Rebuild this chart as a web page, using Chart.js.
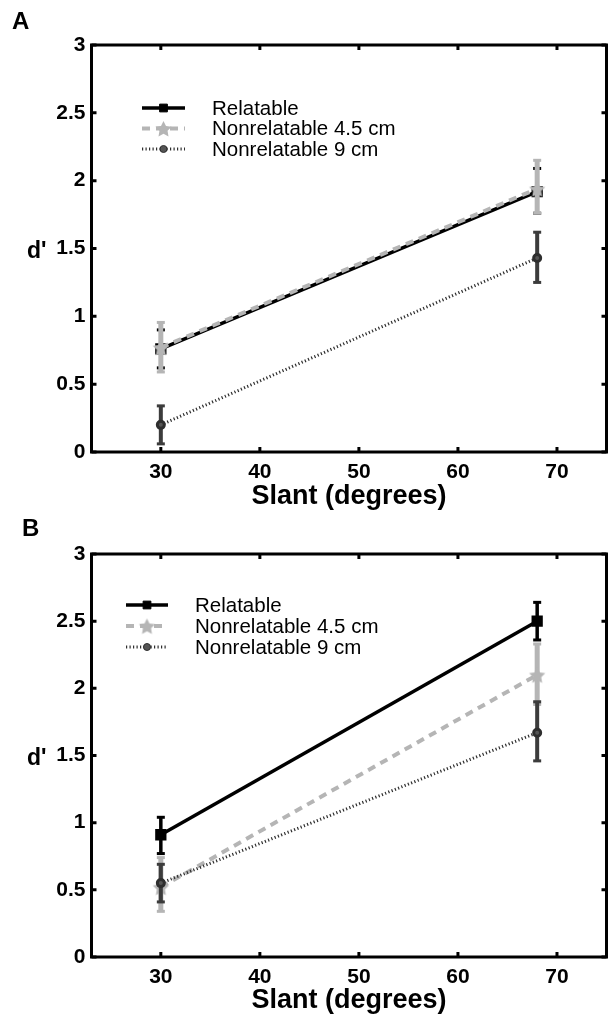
<!DOCTYPE html>
<html lang="en">
<head>
<meta charset="UTF-8">
<title>d' by slant</title>
<script src="https://cdn.jsdelivr.net/npm/chart.js"></script>
<style>
  body { margin: 0; background: #fff; overflow: hidden; }
  .panel { position: absolute; left: 0; width: 608px; }
  #panelA { top: 0; height: 513px; }
  #panelB { top: 513px; height: 504px; }
</style>
</head>
<body>
<div class="panel" id="panelA"><canvas id="chartA"></canvas></div>
<div class="panel" id="panelB"><canvas id="chartB"></canvas></div>

<script>
// --- data ---
const slants = [30, 68];
const xTicks = [30, 40, 50, 60, 70];
const yTicks = [0, 0.5, 1, 1.5, 2, 2.5, 3];
const seriesNames = ["Relatable", "Nonrelatable 4.5 cm", "Nonrelatable 9 cm"];

// panel A
const relA   = [0.76, 1.92];
const relALo = [0.62, 1.76];
const relAHi = [0.90, 2.09];
const n45A   = [0.77, 1.94];
const n45ALo = [0.59, 1.76];
const n45AHi = [0.955, 2.15];
const n9A    = [0.20, 1.43];
const n9ALo  = [0.06, 1.25];
const n9AHi  = [0.34, 1.62];

// panel B
const relB   = [0.91, 2.50];
const relBLo = [0.77, 2.36];
const relBHi = [1.04, 2.64];
const n45B   = [0.52, 2.10];
const n45BLo = [0.34, 1.88];
const n45BHi = [0.74, 2.33];
const n9B    = [0.55, 1.67];
const n9BLo  = [0.41, 1.46];
const n9BHi  = [0.69, 1.90];

const FONT = "'Liberation Sans', Arial, Helvetica, sans-serif";
Chart.defaults.font.family = FONT;
Chart.defaults.color = '#000';

const GRAY = '#b5b5b5';
const DARK = '#2e2e2e';

// filled five point star used as the 4.5 cm marker
function makeStar(color, r) {
    const s = Math.ceil(r * 2 + 2);
    const c = document.createElement('canvas');
    c.width = s; c.height = s;
    const g = c.getContext('2d');
    g.fillStyle = color;
    g.beginPath();
    for (let i = 0; i < 10; i++) {
        const rad = i % 2 ? r * 0.5 : r;
        const a = -Math.PI / 2 + i * Math.PI / 5;
        g.lineTo(s / 2 + rad * Math.cos(a), s / 2 + 1 + rad * Math.sin(a));
    }
    g.closePath();
    g.fill();
    return c;
}
const starImg = makeStar(GRAY, 8.5);

function pts(vals) {
    return slants.map((x, i) => ({ x: x, y: vals[i] }));
}

function makeSets(rel, relLo, relHi, n45, n45Lo, n45Hi, n9, n9Lo, n9Hi) {
    return [
        {
            label: seriesNames[0], data: pts(rel), errLo: relLo, errHi: relHi,
            borderColor: '#000', borderWidth: 3.5, pointStyle: 'rect', pointRadius: 5.5,
            pointBackgroundColor: '#000', pointBorderColor: '#000',
            barColor: '#000', barWidth: 3.5, order: 3
        },
        {
            label: seriesNames[1], data: pts(n45), errLo: n45Lo, errHi: n45Hi,
            borderColor: GRAY, borderWidth: 4, borderDash: [8, 6], pointStyle: starImg, pointRadius: 8.5,
            pointBackgroundColor: GRAY, pointBorderColor: GRAY,
            barColor: GRAY, barWidth: 5, order: 2
        },
        {
            label: seriesNames[2], data: pts(n9), errLo: n9Lo, errHi: n9Hi,
            borderColor: DARK, borderWidth: 3, borderDash: [1.2, 2.3], pointStyle: 'circle', pointRadius: 3.5,
            pointBackgroundColor: '#555', pointBorderColor: DARK,
            barColor: '#3c3c3c', barWidth: 4, order: 1
        }
    ];
}

// frame, inward ticks, error bars, legend, d' and panel letter
const decor = {
    id: 'decor',
    beforeDatasetDraw(chart, args) {
        const ds = chart.data.datasets[args.index];
        const xs = chart.scales.x, ys = chart.scales.y;
        const ctx = chart.ctx;
        ctx.save();
        ctx.strokeStyle = ds.barColor;
        ctx.fillStyle = ds.barColor;
        ctx.lineWidth = ds.barWidth;
        ds.data.forEach((p, i) => {
            const px = xs.getPixelForValue(p.x);
            const top = ys.getPixelForValue(ds.errHi[i]);
            const bot = ys.getPixelForValue(ds.errLo[i]);
            ctx.beginPath();
            ctx.moveTo(px, top);
            ctx.lineTo(px, bot);
            ctx.stroke();
            ctx.fillRect(px - 4, top - 1.5, 8, 3);
            ctx.fillRect(px - 4, bot - 1.5, 8, 3);
        });
        ctx.restore();
    },
    afterDraw(chart, args, opts) {
        const ctx = chart.ctx;
        const { left, right, top, bottom } = chart.chartArea;
        const xs = chart.scales.x, ys = chart.scales.y;
        ctx.save();
        ctx.strokeStyle = '#000';
        ctx.lineWidth = 3;
        ctx.strokeRect(left, top, right - left, bottom - top);
        ctx.beginPath();
        xTicks.forEach(v => {
            const px = xs.getPixelForValue(v);
            ctx.moveTo(px, bottom); ctx.lineTo(px, bottom - 5);
            ctx.moveTo(px, top); ctx.lineTo(px, top + 5);
        });
        yTicks.forEach(v => {
            const py = ys.getPixelForValue(v);
            ctx.moveTo(left, py); ctx.lineTo(left + 5, py);
            ctx.moveTo(right, py); ctx.lineTo(right - 5, py);
        });
        ctx.stroke();

        // legend
        chart.data.datasets.forEach((ds, i) => {
            const y = opts.legendY + i * opts.legendGap;
            ctx.strokeStyle = ds.borderColor;
            ctx.lineWidth = ds.borderWidth;
            ctx.setLineDash(ds.borderDash || []);
            ctx.beginPath();
            ctx.moveTo(opts.legendX0, y);
            ctx.lineTo(opts.legendX1, y);
            ctx.stroke();
            ctx.setLineDash([]);
            ctx.fillStyle = ds.pointBackgroundColor;
            ctx.strokeStyle = ds.pointBorderColor;
            ctx.lineWidth = 1;
            Chart.helpers.drawPoint(ctx, { pointStyle: ds.pointStyle, radius: ds.pointRadius, rotation: 0, borderWidth: 1 },
                (opts.legendX0 + opts.legendX1) / 2, y);
            ctx.fillStyle = '#000';
            ctx.font = '20.5px ' + FONT;
            ctx.textAlign = 'left';
            ctx.textBaseline = 'middle';
            ctx.fillText(ds.label, opts.legendTextX, y + 1);
        });

        // y label, horizontal
        ctx.fillStyle = '#000';
        ctx.font = 'bold 23px ' + FONT;
        ctx.textAlign = 'left';
        ctx.textBaseline = 'alphabetic';
        ctx.fillText("d'", 27, (top + bottom) / 2 + 9);

        // panel letter
        ctx.font = 'bold 24px ' + FONT;
        ctx.fillText(opts.letter, opts.letterX, opts.letterY);
        ctx.restore();
    }
};

function makeChart(id, sets, cfg) {
    return new Chart(document.getElementById(id), {
        type: 'line',
        data: { datasets: sets },
        plugins: [decor],
        options: {
            responsive: true,
            maintainAspectRatio: false,
            animation: false,
            events: [],
            layout: { autoPadding: false, padding: { top: cfg.top, right: 1.5, left: 0, bottom: 0 } },
            plugins: {
                legend: { display: false },
                tooltip: { enabled: false },
                decor: cfg
            },
            scales: {
                x: {
                    type: 'linear', min: 23, max: 75,
                    afterBuildTicks: s => { s.ticks = xTicks.map(v => ({ value: v })); },
                    afterFit: s => { s.height = cfg.xHeight; s.paddingLeft = 0; s.paddingRight = 0; },
                    grid: { display: false, drawTicks: false },
                    border: { display: false },
                    ticks: { font: { size: 21, weight: 'bold' }, padding: 8, maxRotation: 0, autoSkip: false,
                             callback: v => String(v) },
                    title: { display: true, text: 'Slant (degrees)', font: { size: 27, weight: 'bold' }, padding: 0 }
                },
                y: {
                    min: 0, max: 3,
                    afterBuildTicks: s => { s.ticks = yTicks.map(v => ({ value: v })); },
                    afterFit: s => { s.width = 91.5; s.paddingTop = 0; s.paddingBottom = 0; },
                    grid: { display: false, drawTicks: false },
                    border: { display: false },
                    ticks: { font: { size: 21, weight: 'bold' }, padding: 6, callback: v => String(v) }
                }
            }
        }
    });
}

makeChart('chartA', makeSets(relA, relALo, relAHi, n45A, n45ALo, n45AHi, n9A, n9ALo, n9AHi), {
    top: 45, xHeight: 61,
    legendX0: 142, legendX1: 185, legendTextX: 212, legendY: 108, legendGap: 20.5,
    letter: 'A', letterX: 12, letterY: 29
});

makeChart('chartB', makeSets(relB, relBLo, relBHi, n45B, n45BLo, n45BHi, n9B, n9BLo, n9BHi), {
    top: 41, xHeight: 60,
    legendX0: 126, legendX1: 168, legendTextX: 195, legendY: 92, legendGap: 21,
    letter: 'B', letterX: 22, letterY: 23
});
</script>
</body>
</html>
